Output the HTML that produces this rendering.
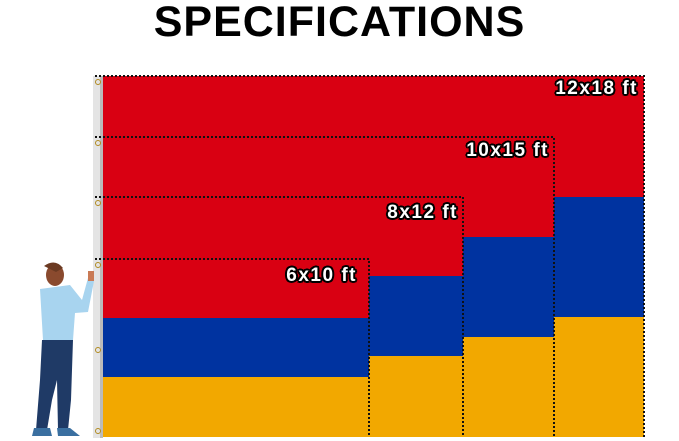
<!DOCTYPE html>
<html><head><style>
body{margin:0;width:679px;height:441px;background:#fff;position:relative;overflow:hidden;font-family:"Liberation Sans",sans-serif}
.t{position:absolute;left:0;width:679px;top:-2px;text-align:center;font-weight:bold;font-size:43px;letter-spacing:1px;color:#000}
.r{position:absolute}
.lab{position:absolute;color:#fff;font-weight:bold;font-size:19px;letter-spacing:1.5px;text-align:right;width:130px;
text-shadow:-2px 0 #000,2px 0 #000,0 -2px #000,0 2px #000,-1.5px -1.5px #000,1.5px 1.5px #000,-1.5px 1.5px #000,1.5px -1.5px #000}
</style></head><body>
<div class="t">SPECIFICATIONS</div>
<svg class="r" style="left:0;top:0" width="679" height="441">
<rect x="93" y="76" width="9" height="362" fill="#e4e4e4"/>
<rect x="100" y="76" width="3" height="362" fill="#bbb"/>
<rect x="103" y="76" width="266" height="242" fill="#d90012"/>
<rect x="103" y="318" width="266" height="59" fill="#0033a0"/>
<rect x="103" y="377" width="266" height="60" fill="#f2a800"/>
<rect x="369" y="76" width="94" height="200" fill="#d90012"/>
<rect x="369" y="276" width="94" height="80" fill="#0033a0"/>
<rect x="369" y="356" width="94" height="81" fill="#f2a800"/>
<rect x="463" y="76" width="91" height="161" fill="#d90012"/>
<rect x="463" y="237" width="91" height="100" fill="#0033a0"/>
<rect x="463" y="337" width="91" height="100" fill="#f2a800"/>
<rect x="554" y="76" width="90" height="121" fill="#d90012"/>
<rect x="554" y="197" width="90" height="120" fill="#0033a0"/>
<rect x="554" y="317" width="90" height="120" fill="#f2a800"/>
<g stroke="#111" stroke-width="2" stroke-dasharray="2 2" fill="none">
<path d="M95 76H644V437"/>
<path d="M95 137H554V437"/>
<path d="M95 197H463V437"/>
<path d="M95 259H369V437"/>
</g>
<g fill="none" stroke="#b08a20" stroke-width="1">
<circle cx="98" cy="82" r="2.5"/><circle cx="98" cy="143" r="2.5"/><circle cx="98" cy="203" r="2.5"/><circle cx="98" cy="265" r="2.5"/><circle cx="98" cy="350" r="2.5"/><circle cx="98" cy="431" r="2.5"/>
</g>
<path d="M40 289 L70 285 L82 300 L88 278 L94 281 L88 312 L75 313 L73 340 L43 340 Z" fill="#a8d4ef"/>
<ellipse cx="55" cy="275" rx="9" ry="11" fill="#8a4a2e"/>
<path d="M44 266 Q55 258 63 268 L56 272 Z" fill="#6b3a22"/>
<path d="M42 340 L73 340 L71 400 L68 430 L58 430 L57 380 L52 400 L47 430 L36 430 L40 380 Z" fill="#1f3a66"/>
<path d="M34 428 L50 428 L52 436 L32 436 Z" fill="#3a6fa0"/>
<path d="M57 428 L70 428 L80 436 L58 436 Z" fill="#3a6fa0"/>
<rect x="88" y="271" width="6" height="10" fill="#c97a55"/>
</svg>
<div class="lab" style="left:508px;top:78px">12x18 ft</div>
<div class="lab" style="left:419px;top:140px">10x15 ft</div>
<div class="lab" style="left:328px;top:202px">8x12 ft</div>
<div class="lab" style="left:227px;top:265px">6x10 ft</div>
</body></html>
